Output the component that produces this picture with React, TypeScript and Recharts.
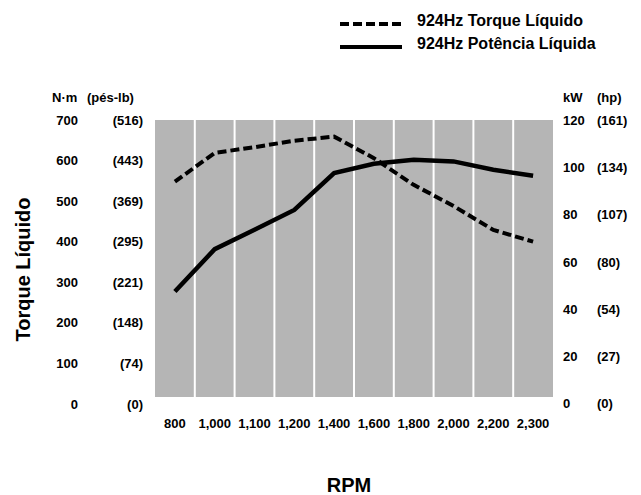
import React from 'react';
import { LineChart, Line, XAxis, YAxis, CartesianGrid, Legend } from 'recharts';

const FONT = "'Liberation Sans', Arial, sans-serif";

// RPM columns
const rpmLabels = ['800', '1,000', '1,100', '1,200', '1,400', '1,600', '1,800', '2,000', '2,200', '2,300'];
// 924Hz net torque, N·m (dashed)
const torqueNm = [548, 619, 633, 649, 659, 606, 540, 488, 429, 400];
// 924Hz net power, kW (solid)
const powerKw = [47.5, 65.4, 73.6, 82, 97.6, 101.5, 103.2, 102.5, 99, 96.4];

const nmTicks = [0, 100, 200, 300, 400, 500, 600, 700];
const lbftLabels = ['(0)', '(74)', '(148)', '(221)', '(295)', '(369)', '(443)', '(516)'];
const kwTicks = [0, 20, 40, 60, 80, 100, 120];
const hpLabels = ['(0)', '(27)', '(54)', '(80)', '(107)', '(134)', '(161)'];

const seriesNames = ['924Hz Torque Líquido', '924Hz Potência Líquida'];

const data = rpmLabels.map((rpm, i) => ({ idx: i, rpm, torque: torqueNm[i], power: powerKw[i] }));
const xTicks = rpmLabels.map((_, i) => i);
// white separators between the rpm columns
const columnEdges = rpmLabels.slice(1).map((_, i) => i + 0.5);

const LeftTick = ({ x, y, payload }: any) => {
  const i = nmTicks.indexOf(payload.value);
  return (
    <g fontFamily={FONT} fontWeight={700} fontSize={13} fill="#000">
      <text x={x - 77} y={y} dy="0.355em" textAnchor="end">{payload.value}</text>
      <text x={x - 12} y={y} dy="0.355em" textAnchor="end">{lbftLabels[i]}</text>
    </g>
  );
};

const RightTick = ({ x, y, payload }: any) => {
  const i = kwTicks.indexOf(payload.value);
  return (
    <g fontFamily={FONT} fontWeight={700} fontSize={13} fill="#000">
      <text x={x + 10} y={y} dy="0.355em" textAnchor="start">{payload.value}</text>
      <text x={x + 44} y={y} dy="0.355em" textAnchor="start">{hpLabels[i]}</text>
    </g>
  );
};

const LeftTitles = ({ viewBox }: any) => {
  const { x, y, height } = viewBox;
  return (
    <g fontFamily={FONT} fontWeight={700} fill="#000">
      <text x={x + 52} y={y - 23} dy="0.355em" fontSize={13}>N·m</text>
      <text x={x + 87} y={y - 23} dy="0.355em" fontSize={13}>(pés-lb)</text>
      <text
        transform={`translate(${x + 23}, ${y + height / 2 + 11}) rotate(-90)`}
        textAnchor="middle"
        dy="0.355em"
        fontSize={20}
      >
        Torque Líquido
      </text>
    </g>
  );
};

const RightTitles = ({ viewBox }: any) => {
  const { x, y } = viewBox;
  return (
    <g fontFamily={FONT} fontWeight={700} fontSize={13} fill="#000">
      <text x={x + 10} y={y - 23} dy="0.355em">kW</text>
      <text x={x + 44} y={y - 23} dy="0.355em">(hp)</text>
    </g>
  );
};

const XTitle = ({ viewBox }: any) => {
  const { x, y, width } = viewBox;
  return (
    <text x={x + width / 2 - 5} y={y + 95} textAnchor="middle" fontFamily={FONT} fontWeight={700} fontSize={20} fill="#000">
      RPM
    </text>
  );
};

const LegendBox = ({ payload }: any) => {
  // keep the series order (torque first), not the alphabetical one
  const items = [...(payload || [])].sort(
    (a: any, b: any) => seriesNames.indexOf(a.value) - seriesNames.indexOf(b.value)
  );
  return (
    <svg width={300} height={60}>
      {items.map((p: any, i: number) => {
        const cy = 20 + i * 23;
        return (
          <g key={p.value}>
            <line
              x1={10}
              x2={72}
              y1={cy + 4}
              y2={cy + 4}
              stroke="#000"
              strokeWidth={4}
              strokeDasharray={p.payload?.strokeDasharray}
            />
            <text x={87} y={cy} dy="0.36em" fontFamily={FONT} fontWeight={700} fontSize={16} fill="#000">
              {p.value}
            </text>
          </g>
        );
      })}
    </svg>
  );
};

const columnLines = (props: any) => {
  const s = props?.xAxis?.scale;
  return columnEdges.map((b) =>
    typeof s === 'function' ? s(b) : props.offset.left + ((b + 0.5) / rpmLabels.length) * props.offset.width
  );
};

export default function App() {
  return (
    <div style={{ position: 'absolute', left: 0, top: 0, width: 641, height: 495, background: '#fff' }}>
      <LineChart width={641} height={495} data={data} margin={{ top: 120, right: 0, bottom: 0, left: 0 }}>
        <CartesianGrid
          yAxisId="left"
          horizontal={false}
          fill="#b5b5b5"
          fillOpacity={1}
          stroke="#fff"
          strokeWidth={2}
          verticalCoordinatesGenerator={columnLines}
        />
        <XAxis
          dataKey="idx"
          type="number"
          domain={[-0.5, 9.5]}
          allowDataOverflow
          ticks={xTicks}
          interval={0}
          tickFormatter={(v) => rpmLabels[v]}
          axisLine={false}
          tickLine={false}
          tickMargin={16}
          height={98}
          tick={{ fontSize: 13, fontWeight: 700, fill: '#000', fontFamily: FONT }}
          label={(props: any) => <XTitle {...props} />}
        />
        <YAxis
          yAxisId="left"
          orientation="left"
          width={155}
          domain={[17, 700]}
          allowDataOverflow
          ticks={nmTicks}
          interval={0}
          axisLine={false}
          tickLine={false}
          tickSize={0}
          tickMargin={0}
          tick={<LeftTick />}
          label={(props: any) => <LeftTitles {...props} />}
        />
        <YAxis
          yAxisId="right"
          orientation="right"
          width={88}
          domain={[2.9, 120]}
          allowDataOverflow
          ticks={kwTicks}
          interval={0}
          axisLine={false}
          tickLine={false}
          tickSize={0}
          tickMargin={0}
          tick={<RightTick />}
          label={(props: any) => <RightTitles {...props} />}
        />
        <Legend
          layout="vertical"
          align="center"
          verticalAlign="middle"
          wrapperStyle={{ top: 0, left: 330, width: 300, height: 60 }}
          content={(props: any) => <LegendBox {...props} />}
        />
        <Line
          yAxisId="left"
          name={seriesNames[0]}
          dataKey="torque"
          type="linear"
          stroke="#000"
          strokeWidth={4}
          strokeDasharray="9 4"
          dot={false}
          isAnimationActive={false}
        />
        <Line
          yAxisId="right"
          name={seriesNames[1]}
          dataKey="power"
          type="linear"
          stroke="#000"
          strokeWidth={4.5}
          dot={false}
          isAnimationActive={false}
        />
      </LineChart>
    </div>
  );
}
